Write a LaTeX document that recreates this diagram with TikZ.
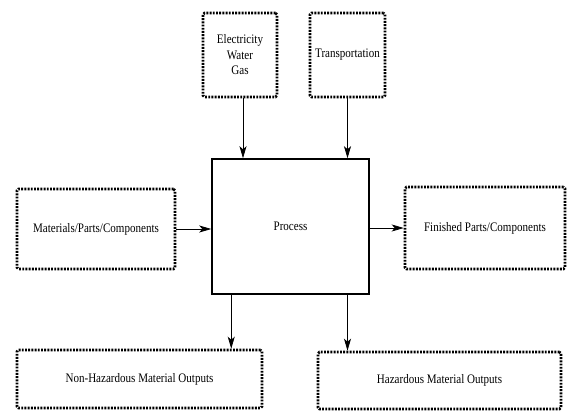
\documentclass[tikz,border=0pt]{standalone}
\usepackage{fontspec}
\setmainfont[FakeStretch=0.85]{Liberation Serif}
\usetikzlibrary{arrows.meta,calc}
\begin{document}
\begin{tikzpicture}[x=1pt,y=-1pt,
  dotbox/.style={draw, line width=2.6pt, dash pattern=on 1.9pt off 1.3pt, rounded corners=1.5pt, align=center, inner sep=0pt, font=\fontsize{13}{15.5}\selectfont},
  procbox/.style={draw, line width=1.5pt, inner sep=0pt, font=\fontsize{13}{15.5}\selectfont},
  arr/.style={line width=0.8pt, -{Stealth[length=12pt,width=7pt,inset=3pt]}}]
\useasboundingbox (0,0) rectangle (570,410);
\node[dotbox, minimum width=74pt, minimum height=84pt] (util) at (240,55) {Electricity\\Water\\Gas};
\node[dotbox, minimum width=75pt, minimum height=84pt] (trans) at (347.5,55) {Transportation};
\node[procbox, minimum width=157pt, minimum height=135pt] (proc) at (290.5,226.5) {Process};
\node[dotbox, minimum width=158pt, minimum height=80pt] (mat) at (96,229) {Materials/Parts/Components};
\node[dotbox, minimum width=160pt, minimum height=82pt] (fin) at (485,228) {Finished Parts/Components};
\node[dotbox, minimum width=245pt, minimum height=58pt] (nonhaz) at (139.5,379) {\raisebox{-5pt}{Non-Hazardous Material Outputs}};
\node[dotbox, minimum width=243pt, minimum height=57pt] (haz) at (439.5,380.5) {\raisebox{-3pt}{Hazardous Material Outputs}};
\coordinate (t1) at ($(util.south)+(3,0)$);
\coordinate (b1) at ($(proc.south west)+(20,0)$);
\coordinate (b2) at (proc.south -| trans.south);
\draw[arr] (t1) -- (t1 |- proc.north);
\draw[arr] (trans.south) -- (trans.south |- proc.north);
\draw[arr] (mat.east) -- (mat.east -| proc.west);
\draw[arr] (proc.east |- fin.west) -- (fin.west);
\draw[arr] (b1) -- (b1 |- nonhaz.north);
\draw[arr] (b2) -- (b2 |- haz.north);
\end{tikzpicture}
\end{document}
